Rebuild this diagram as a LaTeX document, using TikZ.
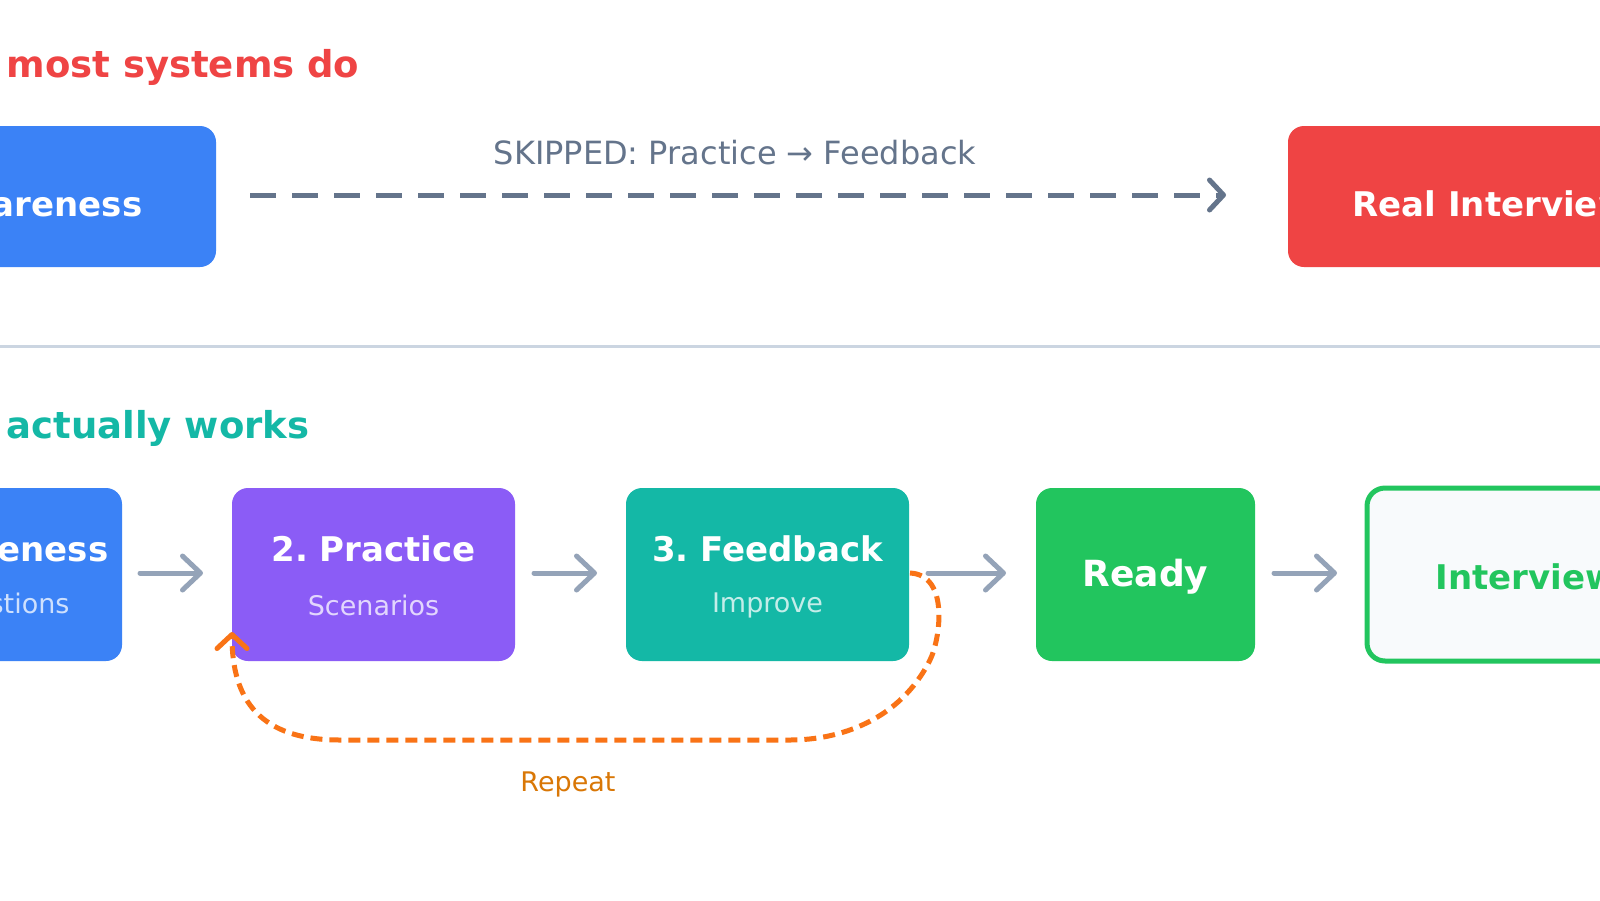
\documentclass[tikz,border=0pt]{standalone}
\usepackage{fontspec}
\setmainfont{DejaVu Sans}
\usetikzlibrary{arrows.meta}
\frenchspacing
\definecolor{cred}{HTML}{EF4444}
\definecolor{cblue}{HTML}{3B82F6}
\definecolor{cpurp}{HTML}{8B5CF6}
\definecolor{cteal}{HTML}{14B8A6}
\definecolor{cgreen}{HTML}{22C55E}
\definecolor{cslate}{HTML}{64748B}
\definecolor{cgray}{HTML}{94A3B8}
\definecolor{cline}{HTML}{CBD5E1}
\definecolor{corange}{HTML}{F97316}
\definecolor{crep}{HTML}{D97706}
\definecolor{cbg}{HTML}{F8FAFC}
\tikzset{
 box/.style={rounded corners=16pt, draw=none},
 big/.style={font=\fontsize{34}{40}\selectfont\bfseries, text=white},
 sub/.style={font=\fontsize{27}{32}\selectfont},
 title/.style={font=\fontsize{37}{44}\selectfont\bfseries, anchor=west},
 flow/.style={draw=cgray, line width=5pt, line cap=round, -{Straight Barb[length=18pt,width=34pt,line width=5pt,round]}},
}
\begin{document}
\begin{tikzpicture}[x=1pt,y=-1pt]
\useasboundingbox (0,0) rectangle (1600,900);
\clip (0,0) rectangle (1600,900);
\fill[white] (0,0) rectangle (1600,900);
% top
\node[title, text=cred] (t1) at (3,67) {most systems do};
\fill[cblue, box] (-150,126) rectangle (216,267);
\node[big, anchor=east] (aw1) at (146,204) {Awareness};
\fill[cred, box] (1288,126) rectangle (1750,267);
\node[big, anchor=west] (ri) at (1349,204) {Real Interview};
\coordinate (s1) at (250,195);
\coordinate (s2) at (1226,195);
\draw[draw=cslate, line width=5pt, dash pattern=on 26pt off 16pt, -{Straight Barb[length=14pt,width=30pt,line width=5pt,round]}] (s1) -- (s2);
\node[font=\fontsize{32}{38}\selectfont, text=cslate] (sk) at (735,153) {SKIPPED: Practice → Feedback};
% separator
\coordinate (l1) at (0,346); \coordinate (l2) at (1600,346);
\draw[cline, line width=3pt] (l1) -- (l2);
\node[title, text=cteal] (t2) at (3,428) {actually works};
% bottom boxes
\fill[cblue, box] (-200,488) rectangle (122,661);
\node[big, anchor=east] (b1) at (112,549) {1. Awareness};
\node[sub, anchor=east, text=white!75!cblue] (b1s) at (73,605) {Questions};
\fill[cpurp, box] (232,488) rectangle (515,661);
\node[big] (b2) at (373.5,549) {2. Practice};
\node[sub, text=white!75!cpurp] (b2s) at (373.5,605) {Scenarios};
\fill[cteal, box] (626,488) rectangle (909,661);
\node[big] (b3) at (767.5,549) {3. Feedback};
\node[sub, text=white!75!cteal] (b3s) at (767.5,605) {Improve};
\fill[cgreen, box] (1036,488) rectangle (1255,661);
\node[big, font=\fontsize{36}{42}\selectfont\bfseries] (b4) at (1145.5,577) {Ready};
\draw[cgreen, fill=cbg, line width=5pt, rounded corners=18pt] (1367,488) rectangle (1700,661);
\node[big, text=cgreen, anchor=west] (b5) at (1432,577) {Interview};
% arrows
\coordinate (a1) at (140,573); \coordinate (a1e) at (203,573);
\coordinate (a2) at (534,573); \coordinate (a2e) at (597,573);
\coordinate (a3) at (928,573); \coordinate (a3e) at (1006,573);
\coordinate (a4) at (1274,573); \coordinate (a4e) at (1337,573);
\draw[flow] (a1) -- (a1e);
\draw[flow] (a2) -- (a2e);
\draw[flow] (a3) -- (a3e);
\draw[flow] (a4) -- (a4e);
% loop
\coordinate (r0) at (910,573);
\coordinate (r1) at (790,740);
\coordinate (r2) at (340,740);
\coordinate (r3) at (232,632);
\draw[corange, line width=5pt, dash pattern=on 12pt off 7pt, -{Straight Barb[length=14pt,width=30pt,line width=5pt,round]}]
 (r0) .. controls (950,575) and (940,640) .. (930,660)
 .. controls (900,720) and (840,740) .. (r1) -- (r2)
 .. controls (260,740) and (232,700) .. (r3);
\node[sub, text=crep] (rep) at (568,784) {Repeat};
\end{tikzpicture}
\end{document}
